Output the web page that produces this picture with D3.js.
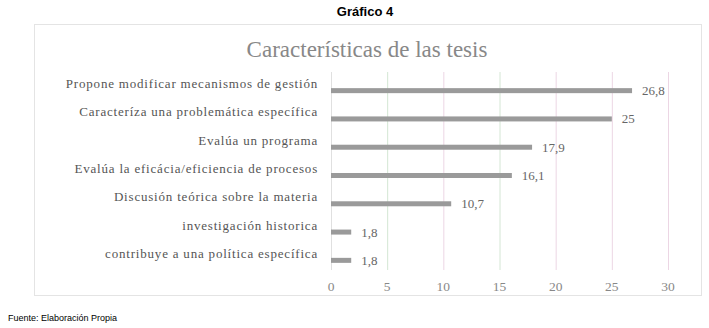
<!DOCTYPE html>
<html>
<head>
<meta charset="utf-8">
<script src="https://cdn.jsdelivr.net/npm/d3@7"></script>
<style>
  body { margin: 0; background: #fff; }
</style>
</head>
<body>
<svg id="chart" width="709" height="328"></svg>
<script>
// categories, top to bottom
const categories = [
  'Propone modificar mecanismos de gestión',
  'Caracteríza una problemática específica',
  'Evalúa un programa',
  'Evalúa la eficácia/eficiencia de procesos',
  'Discusión teórica sobre la materia',
  'investigación historica',
  'contribuye a una política específica'
];
const values = [26.8, 25, 17.9, 16.1, 10.7, 1.8, 1.8];
const valueLabels = ['26,8', '25', '17,9', '16,1', '10,7', '1,8', '1,8'];
const ticks = [0, 5, 10, 15, 20, 25, 30];
const gridColors = ['#e0e0e0', '#d4e6d4', '#ecd6e4', '#d4e6d4', '#ecd6e4', '#ecd6e4', '#ecd6e4'];

const svg = d3.select('#chart');

// header
svg.append('text')
  .attr('x', 365).attr('y', 16)
  .attr('text-anchor', 'middle')
  .attr('font-family', 'Liberation Sans, Arial, sans-serif')
  .attr('font-weight', 'bold')
  .attr('font-size', 13)
  .text('Gráfico 4');

// chart frame
svg.append('rect')
  .attr('x', 34.5).attr('y', 24.5)
  .attr('width', 667).attr('height', 271)
  .attr('fill', 'none')
  .attr('stroke', '#c8c8c8')
  .attr('stroke-dasharray', '1,1');

svg.append('text')
  .attr('x', 367).attr('y', 57)
  .attr('text-anchor', 'middle')
  .attr('font-family', 'Liberation Serif, serif')
  .attr('font-size', 23)
  .attr('fill', '#888')
  .text('Características de las tesis');

const x = d3.scaleLinear().domain([0, 30]).range([331, 668]);
const y = d3.scaleBand().domain(categories).range([76, 274]);

// grid
svg.selectAll('.grid')
  .data(ticks)
  .enter().append('line')
  .attr('x1', d => x(d) + 0.5).attr('x2', d => x(d) + 0.5)
  .attr('y1', 72).attr('y2', 270)
  .attr('stroke', (d, i) => gridColors[i])
  .attr('stroke-width', 1);

// bars
svg.selectAll('.bar')
  .data(values)
  .enter().append('rect')
  .attr('x', x(0))
  .attr('y', (d, i) => y(categories[i]) + y.bandwidth() / 2 - 2)
  .attr('width', d => x(d) - x(0))
  .attr('height', 5)
  .attr('fill', '#9a9a9a');

// value labels
svg.selectAll('.val')
  .data(values)
  .enter().append('text')
  .attr('x', d => x(d) + 10)
  .attr('y', (d, i) => y(categories[i]) + y.bandwidth() / 2 + 5)
  .attr('font-family', 'Liberation Serif, serif')
  .attr('font-size', 13)
  .attr('fill', '#666')
  .text((d, i) => valueLabels[i]);

// category labels
svg.selectAll('.cat')
  .data(categories)
  .enter().append('text')
  .attr('x', 318)
  .attr('y', d => y(d) + y.bandwidth() / 2 - 2)
  .attr('text-anchor', 'end')
  .attr('font-family', 'Liberation Serif, serif')
  .attr('font-size', 13)
  .attr('letter-spacing', 0.8)
  .attr('fill', '#555')
  .text(d => d);

// x axis tick labels
svg.selectAll('.tick')
  .data(ticks)
  .enter().append('text')
  .attr('x', d => x(d))
  .attr('y', 291)
  .attr('text-anchor', 'middle')
  .attr('font-family', 'Liberation Serif, serif')
  .attr('font-size', 13.5)
  .attr('fill', '#888')
  .text(d => d);

// source
svg.append('text')
  .attr('x', 8).attr('y', 321)
  .attr('font-family', 'Liberation Sans, Arial, sans-serif')
  .attr('font-size', 9)
  .text('Fuente: Elaboración Propia');
</script>
</body>
</html>
